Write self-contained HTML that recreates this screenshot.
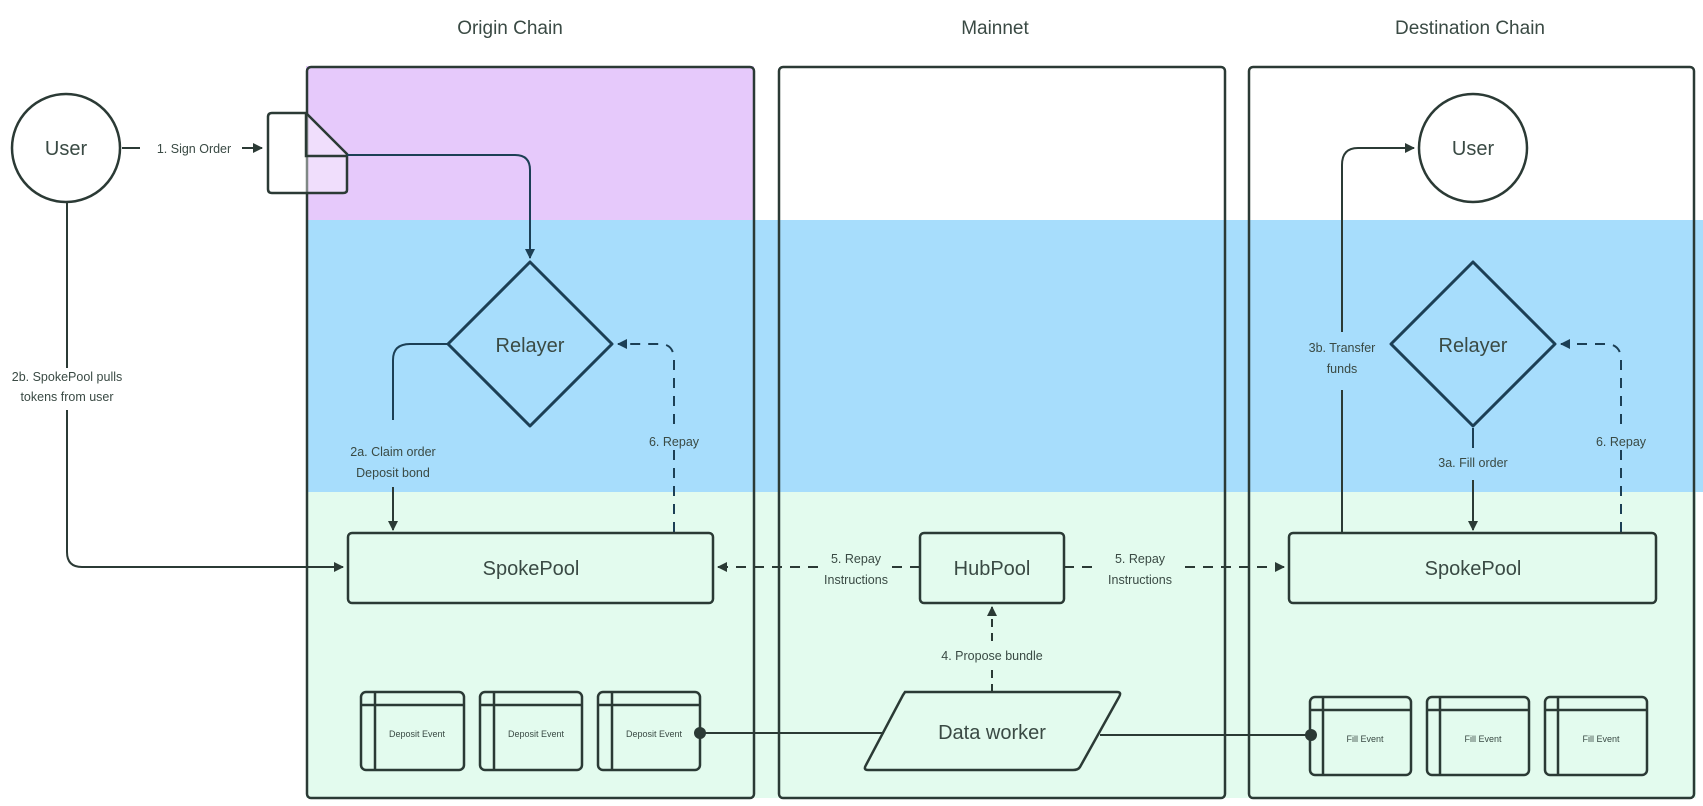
<!DOCTYPE html>
<html><head><meta charset="utf-8"><style>
html,body{margin:0;padding:0;background:#fff;}
svg{display:block;}
text{font-family:"Liberation Sans",sans-serif;fill:#3a4a44;}
</style></head><body>
<svg width="1703" height="806" viewBox="0 0 1703 806" xmlns="http://www.w3.org/2000/svg">
<defs>
<marker id="a" viewBox="0 0 10 10" refX="9" refY="5" markerWidth="5" markerHeight="5" orient="auto-start-reverse"><path d="M0,0L10,5L0,10z" fill="#2b3a35"/></marker>
<marker id="b" viewBox="0 0 10 10" refX="9" refY="5" markerWidth="5" markerHeight="5" orient="auto-start-reverse"><path d="M0,0L10,5L0,10z" fill="#1c3f55"/></marker>
</defs>
<rect x="306" y="66" width="448" height="154" fill="#e6c9fb"/>
<rect x="306" y="220" width="1397" height="272" fill="#a7ddfc"/>
<rect x="306" y="492" width="1390" height="306" fill="#e3fbee"/>
<text x="510" y="34" font-size="19" text-anchor="middle" fill="#333">Origin Chain</text>
<text x="995" y="34" font-size="19" text-anchor="middle" fill="#333">Mainnet</text>
<text x="1470" y="34" font-size="19" text-anchor="middle" fill="#333">Destination Chain</text>
<g fill="none" stroke="#2b3a35" stroke-width="2.5">
<rect x="307" y="67" width="447" height="731" rx="4"/>
<rect x="779" y="67" width="446" height="731" rx="4"/>
<rect x="1249" y="67" width="445" height="731" rx="4"/>
</g>
<circle cx="66" cy="148" r="54" fill="#fff" stroke="#2b3a35" stroke-width="2.5"/>
<text x="66" y="155" font-size="20" text-anchor="middle">User</text>
<line x1="122" y1="148" x2="140" y2="148" stroke="#2b3a35" stroke-width="2"/>
<text x="194" y="153" font-size="12.5" text-anchor="middle">1. Sign Order</text>
<line x1="242" y1="148" x2="262" y2="148" stroke="#2b3a35" stroke-width="2" marker-end="url(#a)"/>
<path d="M268,117 Q268,113 272,113 L306,113 L347,154 L347,190 Q347,193 343,193 L272,193 Q268,193 268,189Z" fill="rgba(255,255,255,0.4)" stroke="#2b3a35" stroke-width="2.5"/>
<path d="M306,113 L306,156 L347,156" fill="none" stroke="#2b3a35" stroke-width="2.5"/>
<path d="M347,155 L515,155 Q530,155 530,170 L530,258" fill="none" stroke="#1c3f55" stroke-width="2" marker-end="url(#b)"/>
<path d="M530,262 L612,344 L530,426 L448,344Z" fill="none" stroke="#1c3f55" stroke-width="3" stroke-linejoin="round"/>
<text x="530" y="352" font-size="20" text-anchor="middle" fill="#1c3f55">Relayer</text>
<path d="M448,344 L410,344 Q393,344 393,360 L393,420" fill="none" stroke="#1c3f55" stroke-width="2"/>
<text x="393" y="456" font-size="12.5" text-anchor="middle" fill="#1c3f55">2a. Claim order</text>
<text x="393" y="477" font-size="12.5" text-anchor="middle" fill="#1c3f55">Deposit bond</text>
<line x1="393" y1="487" x2="393" y2="530" stroke="#2b3a35" stroke-width="2" marker-end="url(#a)"/>
<path d="M674,532 L674,360 Q674,344 660,344 L618,344" fill="none" stroke="#1c3f55" stroke-width="2" stroke-dasharray="10,8" marker-end="url(#b)"/>
<rect x="645" y="432" width="58" height="18" fill="#a7ddfc"/>
<text x="674" y="446" font-size="12.5" text-anchor="middle" fill="#1c3f55">6. Repay</text>
<path d="M67,202 L67,368" fill="none" stroke="#2b3a35" stroke-width="2"/>
<text x="67" y="381" font-size="12.5" text-anchor="middle">2b. SpokePool pulls</text>
<text x="67" y="401" font-size="12.5" text-anchor="middle">tokens from user</text>
<path d="M67,410 L67,552 Q67,567 82,567 L343,567" fill="none" stroke="#2b3a35" stroke-width="2" marker-end="url(#a)"/>
<rect x="348" y="533" width="365" height="70" rx="4" fill="none" stroke="#2b3a35" stroke-width="2.5"/>
<text x="531" y="575" font-size="20" text-anchor="middle">SpokePool</text>
<rect x="920" y="533" width="144" height="70" rx="4" fill="none" stroke="#2b3a35" stroke-width="2.5"/>
<text x="992" y="575" font-size="20" text-anchor="middle">HubPool</text>
<line x1="920" y1="567" x2="892" y2="567" stroke="#2b3a35" stroke-width="2" stroke-dasharray="10,8"/>
<text x="856" y="563" font-size="12.5" text-anchor="middle">5. Repay</text>
<text x="856" y="584" font-size="12.5" text-anchor="middle">Instructions</text>
<line x1="818" y1="567" x2="718" y2="567" stroke="#2b3a35" stroke-width="2" stroke-dasharray="10,8" marker-end="url(#a)"/>
<line x1="1064" y1="567" x2="1092" y2="567" stroke="#2b3a35" stroke-width="2" stroke-dasharray="10,8"/>
<text x="1140" y="563" font-size="12.5" text-anchor="middle">5. Repay</text>
<text x="1140" y="584" font-size="12.5" text-anchor="middle">Instructions</text>
<line x1="1185" y1="567" x2="1284" y2="567" stroke="#2b3a35" stroke-width="2" stroke-dasharray="10,8" marker-end="url(#a)"/>
<line x1="992" y1="692" x2="992" y2="668" stroke="#2b3a35" stroke-width="2" stroke-dasharray="8,6"/>
<text x="992" y="660" font-size="12.5" text-anchor="middle">4. Propose bundle</text>
<line x1="992" y1="641" x2="992" y2="607" stroke="#2b3a35" stroke-width="2" stroke-dasharray="8,6" marker-end="url(#a)"/>
<path d="M905,692 L1117,692 Q1122,692 1119,697 L1080,767 Q1078,770 1073,770 L868,770 Q863,770 866,765 L903,695Z" fill="none" stroke="#2b3a35" stroke-width="2.5"/>
<text x="992" y="739" font-size="20" text-anchor="middle">Data worker</text>
<line x1="700" y1="733" x2="884" y2="733" stroke="#2b3a35" stroke-width="2"/>
<line x1="1100" y1="735" x2="1311" y2="735" stroke="#2b3a35" stroke-width="2"/>
<g fill="none" stroke="#2b3a35" stroke-width="2.5">
<rect x="361" y="692" width="103" height="78" rx="5"/><line x1="375" y1="692" x2="375" y2="770"/><line x1="361" y1="705" x2="464" y2="705"/>
<rect x="480" y="692" width="102" height="78" rx="5"/><line x1="494" y1="692" x2="494" y2="770"/><line x1="480" y1="705" x2="582" y2="705"/>
<rect x="598" y="692" width="102" height="78" rx="5"/><line x1="612" y1="692" x2="612" y2="770"/><line x1="598" y1="705" x2="700" y2="705"/>
<rect x="1310" y="697" width="101" height="78" rx="5"/><line x1="1323" y1="697" x2="1323" y2="775"/><line x1="1310" y1="710" x2="1411" y2="710"/>
<rect x="1427" y="697" width="102" height="78" rx="5"/><line x1="1440" y1="697" x2="1440" y2="775"/><line x1="1427" y1="710" x2="1529" y2="710"/>
<rect x="1545" y="697" width="102" height="78" rx="5"/><line x1="1558" y1="697" x2="1558" y2="775"/><line x1="1545" y1="710" x2="1647" y2="710"/>
</g>
<g font-size="9" text-anchor="middle">
<text x="417" y="737">Deposit Event</text>
<text x="536" y="737">Deposit Event</text>
<text x="654" y="737">Deposit Event</text>
<text x="1365" y="742">Fill Event</text>
<text x="1483" y="742">Fill Event</text>
<text x="1601" y="742">Fill Event</text>
</g>
<circle cx="700" cy="733" r="6" fill="#2b3a35"/>
<circle cx="1311" cy="735" r="6" fill="#2b3a35"/>
<circle cx="1473" cy="148" r="54" fill="#fff" stroke="#2b3a35" stroke-width="2.5"/>
<text x="1473" y="155" font-size="20" text-anchor="middle">User</text>
<path d="M1342,532 L1342,390" fill="none" stroke="#2b3a35" stroke-width="2"/>
<text x="1342" y="352" font-size="12.5" text-anchor="middle" fill="#1c3f55">3b. Transfer</text>
<text x="1342" y="373" font-size="12.5" text-anchor="middle" fill="#1c3f55">funds</text>
<path d="M1342,332 L1342,165 Q1342,148 1358,148 L1414,148" fill="none" stroke="#2b3a35" stroke-width="2" marker-end="url(#a)"/>
<path d="M1473,262 L1555,344 L1473,426 L1391,344Z" fill="none" stroke="#1c3f55" stroke-width="3" stroke-linejoin="round"/>
<text x="1473" y="352" font-size="20" text-anchor="middle" fill="#1c3f55">Relayer</text>
<line x1="1473" y1="428" x2="1473" y2="448" stroke="#1c3f55" stroke-width="2"/>
<text x="1473" y="467" font-size="12.5" text-anchor="middle" fill="#1c3f55">3a. Fill order</text>
<line x1="1473" y1="480" x2="1473" y2="530" stroke="#2b3a35" stroke-width="2" marker-end="url(#a)"/>
<path d="M1621,532 L1621,360 Q1621,344 1606,344 L1561,344" fill="none" stroke="#1c3f55" stroke-width="2" stroke-dasharray="10,8" marker-end="url(#b)"/>
<rect x="1592" y="432" width="58" height="18" fill="#a7ddfc"/>
<text x="1621" y="446" font-size="12.5" text-anchor="middle" fill="#1c3f55">6. Repay</text>
<rect x="1289" y="533" width="367" height="70" rx="4" fill="none" stroke="#2b3a35" stroke-width="2.5"/>
<text x="1473" y="575" font-size="20" text-anchor="middle">SpokePool</text>
</svg>
</body></html>
